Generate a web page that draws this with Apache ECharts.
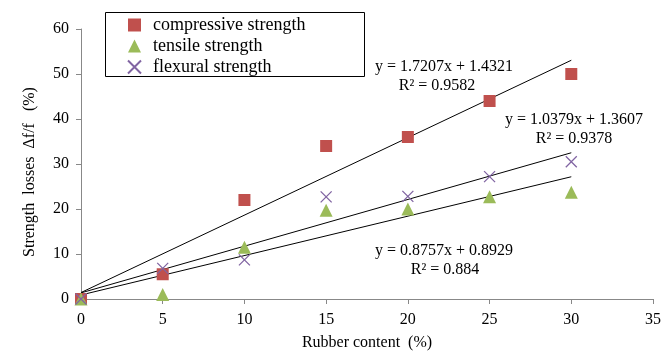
<!DOCTYPE html>
<html><head><meta charset="utf-8">
<script src="https://cdn.jsdelivr.net/npm/echarts@6/dist/echarts.min.js"></script>
<style>html,body{margin:0;padding:0;background:#fff}#c{width:662px;height:352px}</style>
</head><body><div id="c"></div>
<script>
const rubber = [0, 5, 10, 15, 20, 25, 30];
const compressive = [0, 5.5, 22, 34, 36, 44, 50];
const tensile = [0, 1, 11.5, 19.7, 20, 22.7, 23.7];
const flexural = [0, 6.8, 8.7, 22.7, 22.8, 27.2, 30.5];
// trendline coefficients [slope, intercept]
const fitCompressive = [1.7207, 1.4321];
const fitFlexural = [1.0379, 1.3607];
const fitTensile = [0.8757, 0.8929];
const fitRange = [0, 30];
const seriesNames = ['compressive strength', 'tensile strength', 'flexural strength'];

const font = 'Liberation Serif';
const chart = echarts.init(document.getElementById('c'));
const pts = ys => rubber.map((x, i) => [x, ys[i]]);
const fit = c => fitRange.map(x => [x, c[0] * x + c[1]]);
const xPath = 'path://M0,0L10,10M10,0L0,10';
const lineSeries = c => ({type: 'line', data: fit(c), symbol: 'none', silent: true,
  lineStyle: {color: '#000', width: 1}, z: 1});
const txt = (x, y, s) => ({type: 'text', x: x, y: y,
  style: {text: s, font: '16px "Liberation Serif"', fill: '#000', align: 'center', verticalAlign: 'middle'}});

chart.setOption({
  animation: false,
  grid: {left: 81, right: 9, top: 29, bottom: 53, outerBoundsMode: 'none', containLabel: false},
  xAxis: {type: 'value', min: 0, max: 35, interval: 5,
    name: 'Rubber content  (%)', nameLocation: 'middle', nameGap: 36,
    nameTextStyle: {fontFamily: font, fontSize: 16, color: '#000'},
    axisLine: {lineStyle: {color: '#888'}}, axisTick: {show: true, length: 5, lineStyle: {color: '#888'}},
    axisLabel: {fontFamily: font, fontSize: 16, color: '#000', margin: 13},
    splitLine: {show: false}},
  yAxis: {type: 'value', min: 0, max: 60, interval: 10,
    axisLine: {show: true, lineStyle: {color: '#888'}}, axisTick: {show: true, length: 5, lineStyle: {color: '#888'}},
    axisLabel: {fontFamily: font, fontSize: 16, color: '#000', margin: 12},
    splitLine: {show: false}},
  legend: {orient: 'vertical', left: 122, top: 11, itemWidth: 13, itemHeight: 13, itemGap: 3,
    data: seriesNames, textStyle: {fontFamily: font, fontSize: 18, color: '#000', padding: [0, 0, 0, 7]}},
  graphic: [
    {type: 'rect', shape: {x: 105.5, y: 12.5, width: 259, height: 64}, style: {fill: 'none', stroke: '#000', lineWidth: 1}},
    txt(444, 67, 'y = 1.7207x + 1.4321'), txt(437, 86, 'R² = 0.9582'),
    txt(574, 120, 'y = 1.0379x + 1.3607'), txt(574, 139, 'R² = 0.9378'),
    txt(444, 251, 'y = 0.8757x + 0.8929'), txt(445, 270, 'R² = 0.884'),
    {type: 'text', x: 30, y: 172, rotation: Math.PI / 2,
     style: {text: 'Strength  losses  Δf/f   (%)', font: '16px "Liberation Serif"', fill: '#000', align: 'center', verticalAlign: 'middle'}}
  ],
  series: [
    lineSeries(fitCompressive), lineSeries(fitFlexural), lineSeries(fitTensile),
    {name: seriesNames[0], type: 'scatter', data: pts(compressive), symbol: 'rect', symbolSize: 12,
     itemStyle: {color: '#C0504D', opacity: 1}, z: 3},
    {name: seriesNames[1], type: 'scatter', data: pts(tensile), symbol: 'triangle', symbolSize: 13,
     itemStyle: {color: '#9BBB59', opacity: 1}, z: 3},
    {name: seriesNames[2], type: 'scatter', data: pts(flexural), symbol: xPath, symbolSize: 11,
     itemStyle: {color: 'rgba(0,0,0,0)', borderColor: '#8064A2', borderWidth: 1.3, opacity: 1}, z: 4}
  ]
});
</script></body></html>
